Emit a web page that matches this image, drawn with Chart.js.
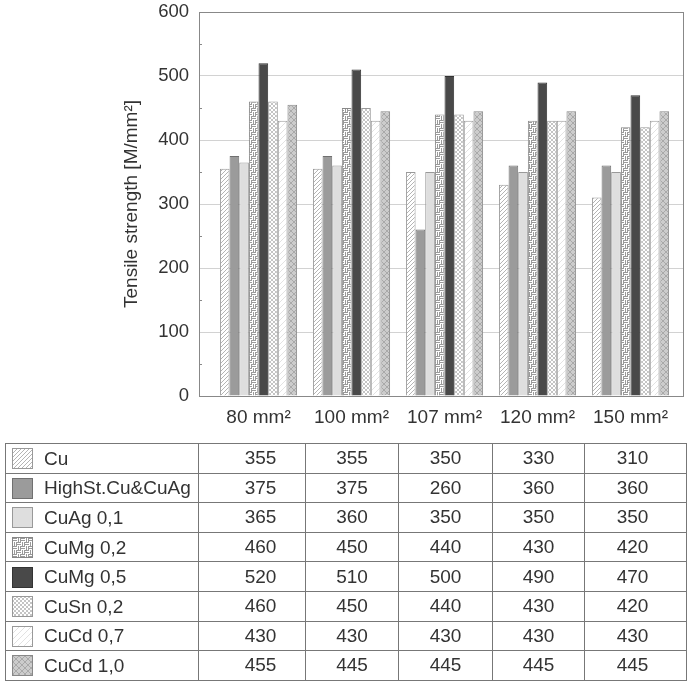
<!DOCTYPE html>
<html>
<head>
<meta charset="utf-8">
<script src="https://cdn.jsdelivr.net/npm/chart.js@4"></script>
<style>
  body { margin: 0; background: #fff; font-family: "Liberation Sans", Arial, sans-serif; color: #333; }
  #wrap { position: absolute; left: 0; top: 0; width: 692px; height: 430px; }
  #dataTable { position: absolute; left: 5px; top: 443px; border-collapse: collapse; font-size: 19px; table-layout: fixed; }
  #dataTable td { border: 1px solid #777; height: 28.6px; padding: 0; text-align: center; white-space: nowrap; }
  #dataTable td.name { text-align: left; }
  #dataTable td.first { padding-left: 17px; }
  #dataTable td.last { padding-right: 6px; }
  .sw { display: inline-block; vertical-align: middle; margin: 0 11px 0 6px; border: 1px solid #888; }
  .name span { vertical-align: middle; }
</style>
</head>
<body>
<div id="wrap"><canvas id="chart"></canvas></div>
<table id="dataTable">
  <colgroup>
    <col style="width:193px"><col style="width:107px"><col style="width:93px">
    <col style="width:94px"><col style="width:92px"><col style="width:102px">
  </colgroup>
  <tbody id="tableBody"></tbody>
</table>
<script>
(function () {
  const categories = ["80 mm²", "100 mm²", "107 mm²", "120 mm²", "150 mm²"];
  const seriesNames = ["Cu", "HighSt.Cu&CuAg", "CuAg 0,1", "CuMg 0,2", "CuMg 0,5", "CuSn 0,2", "CuCd 0,7", "CuCd 1,0"];

  const cu = [355, 355, 350, 330, 310];
  const highStCuAg = [375, 375, 260, 360, 360];
  const cuAg01 = [365, 360, 350, 350, 350];
  const cuMg02 = [460, 450, 440, 430, 420];
  const cuMg05 = [520, 510, 500, 490, 470];
  const cuSn02 = [460, 450, 440, 430, 420];
  const cuCd07 = [430, 430, 430, 430, 430];
  const cuCd10 = [455, 445, 445, 445, 445];

  const seriesValues = [cu, highStCuAg, cuAg01, cuMg02, cuMg05, cuSn02, cuCd07, cuCd10];
  const yTicks = [0, 100, 200, 300, 400, 500, 600];

  // pattern tiles
  function tile(size, bg, draw) {
    const c = document.createElement("canvas");
    c.width = c.height = size;
    const g = c.getContext("2d");
    g.fillStyle = bg;
    g.fillRect(0, 0, size, size);
    if (draw) draw(g, size);
    return c;
  }

  function diag(g, s, color, both) {
    g.strokeStyle = color;
    g.lineWidth = 1;
    g.beginPath();
    g.moveTo(0, s); g.lineTo(s, 0);
    g.moveTo(-1, 1); g.lineTo(1, -1);
    g.moveTo(s - 1, s + 1); g.lineTo(s + 1, s - 1);
    if (both) {
      g.moveTo(0, 0); g.lineTo(s, s);
      g.moveTo(-1, s - 1); g.lineTo(1, s + 1);
      g.moveTo(s - 1, -1); g.lineTo(s + 1, 1);
    }
    g.stroke();
  }

  function brick(g, s) {
    g.strokeStyle = "#9a9a9a";
    g.lineWidth = 1;
    g.beginPath();
    g.moveTo(0, 0.5); g.lineTo(4, 0.5);
    g.moveTo(0, 2.5); g.lineTo(4, 2.5);
    g.moveTo(5.5, 0); g.lineTo(5.5, 4);
    g.moveTo(7.5, 0); g.lineTo(7.5, 4);
    g.moveTo(4, 4.5); g.lineTo(8, 4.5);
    g.moveTo(4, 6.5); g.lineTo(8, 6.5);
    g.moveTo(1.5, 4); g.lineTo(1.5, 8);
    g.moveTo(3.5, 4); g.lineTo(3.5, 8);
    g.stroke();
  }

  const tiles = [
    tile(4, "#ffffff", (g, s) => diag(g, s, "#b4b4b4", false)),
    tile(4, "#9b9b9b"),
    tile(4, "#dedede"),
    tile(8, "#ffffff", brick),
    tile(4, "#494949"),
    tile(4, "#ffffff", (g, s) => diag(g, s, "#c4c4c4", true)),
    tile(6, "#ffffff", (g, s) => diag(g, s, "#e2e2e2", false)),
    tile(6, "#cccccc", (g, s) => diag(g, s, "#a9a9a9", true))
  ];
  const borders = ["#999", "#707070", "#999", "#888", "#333", "#999", "#999", "#888"];

  const patCtx = document.createElement("canvas").getContext("2d");
  const patterns = tiles.map(t => patCtx.createPattern(t, "repeat"));

  const framePlugin = {
    id: "frame",
    afterDatasetsDraw(chart) {
      const { ctx, chartArea: a, scales } = chart;
      const y = scales.y;
      ctx.save();
      ctx.strokeStyle = "#888";
      ctx.lineWidth = 1;
      ctx.strokeRect(Math.round(a.left) + 0.5, Math.round(a.top) + 0.5,
        Math.round(a.right - a.left) - 1, Math.round(a.bottom - a.top));
      ctx.beginPath();
      for (let v = 50; v < 600; v += 100) {
        const py = Math.round(y.getPixelForValue(v)) + 0.5;
        ctx.moveTo(a.left, py);
        ctx.lineTo(a.left + 3, py);
      }
      ctx.stroke();
      ctx.restore();
    }
  };

  const datasets = seriesNames.map((name, i) => ({
    label: name,
    data: seriesValues[i].map((v, j) => ({ x: j, y: v })),
    backgroundColor: patterns[i],
    borderColor: borders[i],
    borderWidth: 1,
    categoryPercentage: 0.83,
    barPercentage: 1.0
  }));

  const padLeft = 116;
  const fontFamily = "Liberation Sans, Arial, sans-serif";

  new Chart(document.getElementById("chart"), {
    type: "bar",
    data: { datasets: datasets },
    options: {
      responsive: true,
      maintainAspectRatio: false,
      animation: false,
      layout: { padding: { left: padLeft, top: 12, right: 8, bottom: 0 } },
      plugins: {
        legend: { display: false },
        tooltip: { enabled: false }
      },
      scales: {
        x: {
          type: "linear",
          offset: false,
          min: -0.64,
          max: 4.575,
          afterFit(scale) { scale.height = 34; scale.paddingLeft = 0; scale.paddingRight = 0; },
          grid: { display: false },
          border: { display: false },
          ticks: {
            stepSize: 1,
            includeBounds: false,
            autoSkip: false,
            maxRotation: 0,
            padding: 2,
            color: "#333",
            font: { family: fontFamily, size: 19 },
            callback(v) { return Number.isInteger(v) ? categories[v] : ""; }
          }
        },
        y: {
          min: 0,
          max: 600,
          afterFit(scale) {
            scale.width = 199 - padLeft;
            scale.paddingTop = 0;
            scale.paddingBottom = 0;
          },
          afterBuildTicks(scale) { scale.ticks = yTicks.map(v => ({ value: v })); },
          grid: { color: "#d2d2d2", drawTicks: false },
          border: { display: false },
          ticks: {
            padding: 10,
            color: "#333",
            font: { family: fontFamily, size: 18.5 }
          },
          title: {
            display: true,
            text: "Tensile strength [M/mm²]",
            color: "#333",
            padding: { top: 4, bottom: 0 },
            font: { family: fontFamily, size: 19 }
          }
        }
      }
    },
    plugins: [framePlugin]
  });

  // data table with legend swatches
  const body = document.getElementById("tableBody");
  seriesNames.forEach((name, i) => {
    const tr = document.createElement("tr");
    const nameTd = document.createElement("td");
    nameTd.className = "name";
    const sw = document.createElement("canvas");
    sw.width = 19; sw.height = 19;
    sw.className = "sw";
    sw.style.borderColor = borders[i];
    const sg = sw.getContext("2d");
    sg.fillStyle = sg.createPattern(tiles[i], "repeat");
    sg.fillRect(0, 0, 19, 19);
    const span = document.createElement("span");
    span.textContent = name;
    nameTd.appendChild(sw);
    nameTd.appendChild(span);
    tr.appendChild(nameTd);
    seriesValues[i].forEach((v, j) => {
      const td = document.createElement("td");
      td.textContent = v;
      if (j === 0) td.className = "first";
      if (j === seriesValues[i].length - 1) td.className = "last";
      tr.appendChild(td);
    });
    body.appendChild(tr);
  });
})();
</script>
</body>
</html>
